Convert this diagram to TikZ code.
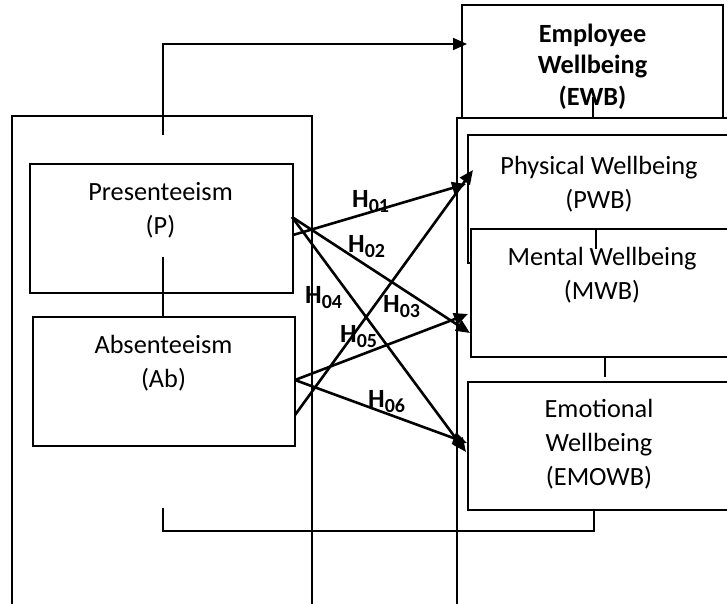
\documentclass[tikz,border=0pt]{standalone}
\usepackage{fontspec}
\setmainfont{Carlito}
\usetikzlibrary{arrows.meta}
% fixed strut: 20pt above, 7pt below the baseline
\newcommand\lnstrut{\rule[-7pt]{0pt}{27pt}}
\tikzset{
  box/.style={draw, line width=1.8pt, inner sep=0pt, outer sep=0pt},
  wbox/.style={box, fill=white},
  txt/.style={inner sep=0pt, anchor=north, align=center,
    font=\fontsize{26.3}{34.5}\selectfont},
  btxt/.style={txt, font=\fontsize{26.3}{31.5}\selectfont\bfseries},
  link/.style={line width=1.8pt},
  hyp/.style={line width=2.6pt, -{Triangle[length=14pt,width=12pt]}},
  hlab/.style={inner sep=0pt, anchor=base west,
    font=\fontsize{26.3}{30}\selectfont\bfseries},
}
\newcommand\hsub[1]{H\raisebox{-5.5pt}{\fontsize{20}{20}\selectfont #1}}
\begin{document}
\begin{tikzpicture}[x=1pt, y=-1pt]
\useasboundingbox (0,0) rectangle (727,603);

% outer frames (open towards the page edges)
\node[box, minimum width=300pt, minimum height=524pt] (L) at (162,378) {};
\node[box, minimum width=303pt, minimum height=522pt] (R) at (608.5,379) {};

% construct boxes
\node[box, minimum width=261pt, minimum height=113pt] (EWB) at (592.5,61.5) {};
\node[box, minimum width=262pt, minimum height=128pt] (PWB) at (599,199) {};
\node[wbox, minimum width=262pt, minimum height=128pt] (MWB) at (602,293) {};
\node[box, minimum width=262pt, minimum height=128pt] (EMOWB) at (599,446) {};
\node[box, minimum width=263pt, minimum height=129pt] (P) at (161.5,228.5) {};
\node[box, minimum width=262pt, minimum height=129pt] (Ab) at (164,381.5) {};

% box texts
\node[btxt] (tEWB) at (592.5,22) {\lnstrut Employee\\\lnstrut Wellbeing\\\lnstrut (EWB)};
\node[txt] (tPWB) at (599,154) {\lnstrut Physical Wellbeing\\\lnstrut (PWB)};
\node[txt] (tMWB) at (602,245) {\lnstrut Mental Wellbeing\\\lnstrut (MWB)};
\node[txt, font=\fontsize{26.3}{34}\selectfont] (tEMOWB) at (599,397)
  {\lnstrut Emotional\\\lnstrut Wellbeing\\\lnstrut (EMOWB)};
\node[txt] (tP) at (160.5,180) {\lnstrut Presenteeism\\\lnstrut (P)};
\node[txt, font=\fontsize{26.3}{34}\selectfont] (tAb) at (163.5,333) {\lnstrut Absenteeism\\\lnstrut (Ab)};

% structural links
\coordinate (topstart) at (163,135);
\coordinate (ewbin) at (467,44);
\draw[link, -{Triangle[length=14pt,width=12pt]}] (topstart) |- (ewbin);

\coordinate (pab) at (163,257);
\draw[link] (pab) -- (pab |- Ab.north);

\coordinate (ewbstub) at (593,97);
\draw[link] (ewbstub) -- (ewbstub |- R.north);

\coordinate (pmstub) at (596,249);
\draw[link] (pmstub |- MWB.north) -- (pmstub);

\coordinate (mestub) at (605,377);
\draw[link] (mestub |- MWB.south) -- (mestub);

\coordinate (botL) at (163,508);
\coordinate (botR) at (594,531);
\draw[link] (botR |- EMOWB.south) -- (botR) -| (botL);

% hypothesised paths
\coordinate (pA) at (293,235);
\coordinate (pB) at (292,217);
\coordinate (aA) at (295,380);
\coordinate (aB) at (295,415);
\coordinate (pwbA) at (466,184);
\coordinate (pwbB) at (473,170);
\coordinate (mwbA) at (470,333);
\coordinate (mwbB) at (468,314);
\coordinate (emoA) at (466,452);
\coordinate (emoB) at (467,443);
\draw[hyp] (pA) -- (pwbA);
\draw[hyp] (aB) -- (pwbB);
\draw[hyp] (pB) -- (mwbA);
\draw[hyp] (aA) -- (mwbB);
\draw[hyp] (pB) -- (emoA);
\draw[hyp] (aA) -- (emoB);

% hypothesis labels
\node[hlab] (h01) at (352,207) {\hsub{01}};
\node[hlab] (h02) at (348,252) {\hsub{02}};
\node[hlab] (h03) at (383,312) {\hsub{03}};
\node[hlab] (h04) at (305,303) {\hsub{04}};
\node[hlab] (h05) at (340,342) {\hsub{05}};
\node[hlab] (h06) at (368,407) {\hsub{06}};
\end{tikzpicture}
\end{document}
